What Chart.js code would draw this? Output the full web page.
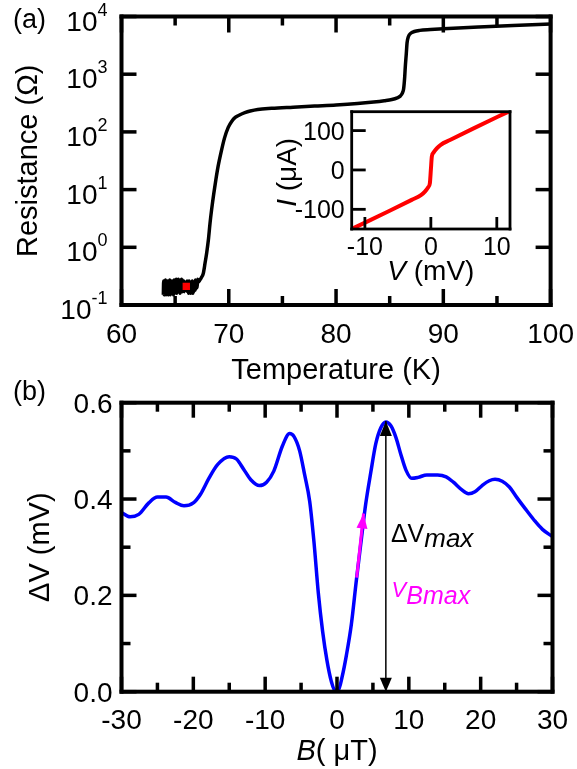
<!DOCTYPE html>
<html lang="en">
<head>
  <meta charset="UTF-8" />
  <title>R(T) and ΔV(B)</title>
  <script src="https://cdn.jsdelivr.net/npm/chart.js"></script>
  <style>
    body { margin: 0; background: #fff; }
    #page { position: relative; width: 577px; height: 769px; overflow: hidden; background: #fff; }
    canvas { position: absolute; }
  </style>
</head>
<body>
  <div id="page">
    <canvas id="chartA" width="577" height="395" style="left:0;top:0"></canvas>
    <canvas id="chartB" width="577" height="389" style="left:0;top:380px"></canvas>
    <canvas id="inset" width="250" height="185" style="left:270px;top:105px"></canvas>
  </div>

  <script>
    const FONT = '"Liberation Sans", Arial, Helvetica, sans-serif';

    // (a) resistance vs temperature (noisy tail below Tc, then the two transitions)
    const tempK = [63.9, 63.93, 63.98, 64.02, 64.07, 64.1, 64.15, 64.2, 64.25, 64.3, 64.35, 64.4, 64.45,
      64.5, 64.55, 64.6, 64.65, 64.7, 64.75, 64.8, 64.85, 64.9, 64.95, 65.0, 65.05, 65.1, 65.15, 65.2,
      65.25, 65.3, 65.35, 65.4, 65.45, 65.5, 65.55, 65.6, 65.65, 65.7, 65.75, 65.8, 65.85, 65.9, 65.95,
      66.0, 66.05, 66.1, 66.15, 66.2, 66.25, 66.3, 66.35, 66.4, 66.45, 66.5, 66.55, 66.6, 66.65, 66.7,
      66.75, 66.8, 66.85, 66.9, 66.95, 67.0, 67.05, 67.1, 67.16, 67.3, 67.45, 67.62, 67.8, 67.94, 68.1,
      68.25, 68.4, 68.6, 68.8, 69.0, 69.3, 69.6, 69.95, 70.3, 70.6, 71.0, 71.5, 72.0, 72.7, 74.0, 76.0,
      78.0, 80.0, 82.0, 83.5, 84.5, 85.2, 85.7, 86.0, 86.2, 86.3, 86.4, 86.45, 86.55, 86.62, 86.75,
      86.95, 87.3, 87.8, 88.8, 90.0, 93.3, 96.5, 100];
    const resOhm = [0.15, 0.26, 0.15, 0.25, 0.16, 0.27, 0.15, 0.24, 0.16, 0.26, 0.15, 0.25, 0.17,
      0.27, 0.15, 0.24, 0.16, 0.26, 0.17, 0.25, 0.15, 0.27, 0.16, 0.26, 0.17, 0.28, 0.16, 0.25,
      0.18, 0.28, 0.17, 0.27, 0.16, 0.26, 0.18, 0.28, 0.17, 0.27, 0.19, 0.26, 0.17, 0.25, 0.19,
      0.24, 0.18, 0.26, 0.17, 0.25, 0.16, 0.26, 0.17, 0.24, 0.16, 0.25, 0.17, 0.26, 0.16, 0.24,
      0.17, 0.25, 0.18, 0.27, 0.19, 0.26, 0.2, 0.28, 0.25, 0.27, 0.3, 0.35, 0.55, 0.8, 1.35,
      2.6, 4.5, 8.5, 15, 25, 46, 78, 120, 155, 178, 196, 215, 230, 245, 256, 268,
      280, 292, 310, 330, 348, 365, 390, 420, 480, 560, 900, 1300, 2300, 3500, 4500,
      5100, 5500, 5750, 5950, 6150, 6600, 7000, 7400];
    const markT = [66.04];
    const markR = [0.21];
    const tempTicks = [60, 70, 80, 90, 100];
    const tempMinor = [65, 75, 85, 95];
    const resTicks = [0.1, 1, 10, 100, 1000, 10000];
    const resExp = ['-1', '0', '1', '2', '3', '4'];

    // inset: I-V curve
    const ivV = [-12, -6.4, -2.9, -1.5, -0.9, -0.4, -0.15, 0, 0.15, 0.4, 0.9, 1.5, 2.9, 6.4, 12];
    const ivI = [-150, -105, -76, -64, -55, -44, -34, 0, 34, 44, 55, 64, 76, 105, 150];
    const vTicks = [-10, 0, 10];
    const iTicks = [-100, 0, 100];

    // (b) delta V vs field
    const fieldB = [-30, -28.8, -27.6, -26.2, -25.0, -23.8, -22.5, -21.3, -20.0, -19.0, -17.8, -16.6,
      -15.0, -14.0, -13.0, -12.0, -10.8, -9.8, -8.8, -7.6, -6.6, -6.0, -5.2, -4.5, -3.8, -3.2, -2.6,
      -2.0, -1.4, -0.8, -0.3, 0.2, 0.7, 1.3, 2.0, 2.7, 3.4, 4.0, 4.7, 5.4, 6.1, 6.8, 7.5, 8.2, 8.9,
      9.6, 10.4, 11.3, 12.5, 14.0, 15.2, 16.2, 17.3, 18.3, 19.2, 20.2, 21.2, 22.0, 23.0, 24.0, 25.0,
      26.2, 27.4, 28.6, 30];
    const deltaV = [0.372, 0.363, 0.368, 0.392, 0.404, 0.404, 0.393, 0.386, 0.392, 0.410, 0.444, 0.472,
      0.488, 0.483, 0.462, 0.440, 0.428, 0.435, 0.458, 0.510, 0.536, 0.530, 0.500, 0.450, 0.395, 0.310, 0.205,
      0.125, 0.065, 0.022, 0.003, 0.004, 0.030, 0.075, 0.140, 0.232, 0.318, 0.390, 0.455, 0.515, 0.548, 0.560, 0.552, 0.528, 0.492,
      0.460, 0.443, 0.445, 0.450, 0.450, 0.446, 0.435, 0.420, 0.411, 0.415, 0.428, 0.438, 0.441, 0.437, 0.425, 0.404,
      0.380, 0.357, 0.337, 0.322];
    const bTicks = [-30, -20, -10, 0, 10, 20, 30];
    const bMinor = [-25, -15, -5, 5, 15, 25];
    const dvTicks = [0, 0.2, 0.4, 0.6];
    const dvMinor = [0.1, 0.3, 0.5];
    const maxArrowB = [6.8, 6.8];
    const maxArrowV = [0, 0.562];
    const speedArrowB = [2.74, 3.7];
    const speedArrowV = [0.237, 0.37];

    const pts = (xs, ys) => xs.map((x, i) => ({ x, y: ys[i] }));
    const setTicks = vals => s => { s.ticks = vals.map(v => ({ value: v })); };
    const axis = extra => Object.assign({
      ticks: { display: false }, grid: { display: false }, border: { display: false }
    }, extra);
    const P = (t, size, style, dy, color) => ({ t, size, style, dy, color });

    function rich(ctx, parts, x, y, align, rot) {
      ctx.save();
      ctx.translate(x, y);
      if (rot) ctx.rotate(rot);
      ctx.textBaseline = 'alphabetic';
      ctx.textAlign = 'left';
      const fontOf = p => `${p.style || 'normal'} ${p.size}px ${FONT}`;
      let w = 0;
      parts.forEach(p => { ctx.font = fontOf(p); w += ctx.measureText(p.t).width; });
      let cx = align === 'center' ? -w / 2 : align === 'right' ? -w : 0;
      parts.forEach(p => {
        ctx.font = fontOf(p);
        ctx.fillStyle = p.color || '#000';
        ctx.fillText(p.t, cx, p.dy || 0);
        cx += ctx.measureText(p.t).width;
      });
      ctx.restore();
    }

    function head(ctx, x1, y1, x2, y2, len, half, color) {
      const ang = Math.atan2(y2 - y1, x2 - x1);
      ctx.save();
      ctx.translate(x2, y2);
      ctx.rotate(ang);
      ctx.beginPath();
      ctx.moveTo(0, 0);
      ctx.lineTo(-len, half);
      ctx.lineTo(-len, -half);
      ctx.closePath();
      ctx.fillStyle = color;
      ctx.fill();
      ctx.restore();
    }

    // frame, inward ticks, tick labels and free text
    function makeDeco(cfg) {
      return {
        id: 'deco',
        afterDraw(chart) {
          const ctx = chart.ctx, a = chart.chartArea;
          const sx = chart.scales.x, sy = chart.scales.y;
          const tw = cfg.tickW, fw = cfg.frame;
          ctx.save();
          ctx.fillStyle = '#000';
          const w = a.right - a.left, h = a.bottom - a.top;
          ctx.fillRect(a.left - fw / 2, a.top - fw / 2, w + fw, fw);
          ctx.fillRect(a.left - fw / 2, a.bottom - fw / 2, w + fw, fw);
          ctx.fillRect(a.left - fw / 2, a.top - fw / 2, fw, h + fw);
          ctx.fillRect(a.right - fw / 2, a.top - fw / 2, fw, h + fw);

          const xt = (vals, len) => vals.forEach(v => {
            const p = sx.getPixelForValue(v);
            ctx.fillRect(p - tw / 2, a.bottom - len, tw, len);
            if (cfg.mirror) ctx.fillRect(p - tw / 2, a.top, tw, len);
          });
          const yt = (vals, len) => vals.forEach(v => {
            const p = sy.getPixelForValue(v);
            ctx.fillRect(a.left, p - tw / 2, len, tw);
            if (cfg.mirror) ctx.fillRect(a.right - len, p - tw / 2, len, tw);
          });
          xt(sx.ticks.map(t => t.value), cfg.xLen);
          xt(cfg.xMinor || [], cfg.xMinorLen);
          yt(sy.ticks.map(t => t.value), cfg.yLen);
          yt(cfg.yMinor || [], cfg.yMinorLen);

          sx.ticks.forEach((t, i) => rich(ctx, cfg.xLabel(t.value, i),
            sx.getPixelForValue(t.value), a.bottom + cfg.xLabelDy, 'center'));
          sy.ticks.forEach((t, i) => rich(ctx, cfg.yLabel(t.value, i),
            a.left - cfg.yLabelGap, sy.getPixelForValue(t.value) + cfg.yLabelDy, 'right'));
          if (cfg.extra) cfg.extra(ctx, a, sx, sy);
          ctx.restore();
        }
      };
    }

    const baseOpts = (pad, xAxis, yAxis) => ({
      responsive: false,
      animation: false,
      events: [],
      layout: { padding: pad },
      plugins: { legend: { display: false }, tooltip: { enabled: false } },
      scales: { x: xAxis, y: yAxis }
    });

    // panel (a)
    new Chart(document.getElementById('chartA'), {
      type: 'line',
      data: {
        datasets: [
          { data: pts(markT, markR), showLine: false, pointStyle: 'rect', pointRadius: 5.2,
            pointBackgroundColor: '#ff0000', pointBorderWidth: 0, order: 0 },
          { data: pts(tempK, resOhm), borderColor: '#000', borderWidth: 3.5, pointRadius: 0,
            cubicInterpolationMode: 'monotone', order: 1 }
        ]
      },
      options: baseOpts({ top: 16.5, right: 26.4, left: 0, bottom: 0 },
        axis({ type: 'linear', min: 60, max: 100, afterBuildTicks: setTicks(tempTicks), afterFit: s => { s.height = 90; } }),
        axis({ type: 'logarithmic', min: 0.1, max: 10000, afterBuildTicks: setTicks(resTicks), afterFit: s => { s.width = 121.5; } })),
      plugins: [makeDeco({
        frame: 4, tickW: 3.5, mirror: true,
        xLen: 16, xMinorLen: 9, yLen: 15, yMinorLen: 9, xMinor: tempMinor,
        xLabel: v => [P(String(v), 28)], xLabelDy: 38,
        yLabel: (v, i) => [P('10', 28), P(resExp[i], 18, 'normal', -15)], yLabelGap: 14, yLabelDy: 14,
        extra: (ctx, a) => {
          rich(ctx, [P('(a)', 27)], 13, 28, 'left');
          rich(ctx, [P('Temperature (K)', 29)], (a.left + a.right) / 2, 379, 'center');
          rich(ctx, [P('Resistance (Ω)', 29)], 37, (a.top + a.bottom) / 2, 'center', -Math.PI / 2);
        }
      })]
    });

    // inset I-V
    new Chart(document.getElementById('inset'), {
      type: 'line',
      data: {
        datasets: [
          { data: pts(ivV, ivI), borderColor: '#ff0000', borderWidth: 4, pointRadius: 0,
            cubicInterpolationMode: 'monotone', clip: 0 }
        ]
      },
      options: baseOpts({ top: 6.7, right: 10, left: 0, bottom: 0 },
        axis({ type: 'linear', min: -12, max: 12, afterBuildTicks: setTicks(vTicks), afterFit: s => { s.height = 61; } }),
        axis({ type: 'linear', min: -150, max: 148, afterBuildTicks: setTicks(iTicks), afterFit: s => { s.width = 81.7; } })),
      plugins: [makeDeco({
        frame: 2.8, tickW: 2.8, mirror: false,
        xLen: 12, yLen: 14,
        xLabel: v => [P(String(v), 25)], xLabelDy: 26,
        yLabel: v => [P(String(v), 25)], yLabelGap: 7, yLabelDy: 9,
        extra: (ctx, a) => {
          rich(ctx, [P('V', 28, 'italic'), P(' (mV)', 28)], (a.left + a.right) / 2, a.bottom + 51, 'center');
          rich(ctx, [P('I', 28, 'italic'), P(' (μA)', 28)], 26, (a.top + a.bottom) / 2 + 2, 'center', -Math.PI / 2);
        }
      })]
    });

    // panel (b)
    new Chart(document.getElementById('chartB'), {
      type: 'line',
      data: {
        datasets: [
          { data: pts(speedArrowB, speedArrowV), borderColor: '#ff00ff', borderWidth: 3, pointRadius: 0, order: 0 },
          { data: pts(maxArrowB, maxArrowV), borderColor: '#000', borderWidth: 1.5, pointRadius: 0, order: 1 },
          { data: pts(fieldB, deltaV), borderColor: '#0000ff', borderWidth: 3.5, pointRadius: 0,
            cubicInterpolationMode: 'monotone', order: 2 }
        ]
      },
      options: baseOpts({ top: 22.7, right: 24.5, left: 0, bottom: 0 },
        axis({ type: 'linear', min: -30, max: 30, afterBuildTicks: setTicks(bTicks), afterFit: s => { s.height = 77.3; } }),
        axis({ type: 'linear', min: 0, max: 0.6, afterBuildTicks: setTicks(dvTicks), afterFit: s => { s.width = 121.5; } })),
      plugins: [makeDeco({
        frame: 4, tickW: 3.5, mirror: true,
        xLen: 15, xMinorLen: 9, yLen: 15, yMinorLen: 9, xMinor: bMinor, yMinor: dvMinor,
        xLabel: v => [P(String(v), 28)], xLabelDy: 37,
        yLabel: v => [P(v.toFixed(1), 28)], yLabelGap: 9, yLabelDy: 10,
        extra: (ctx, a, sx, sy) => {
          const bx = sx.getPixelForValue(maxArrowB[0]);
          head(ctx, bx, sy.getPixelForValue(maxArrowV[0]), bx, sy.getPixelForValue(maxArrowV[1]), 15, 6, '#000');
          head(ctx, bx, sy.getPixelForValue(maxArrowV[1]), bx, sy.getPixelForValue(maxArrowV[0]), 14, 6, '#000');
          head(ctx, sx.getPixelForValue(speedArrowB[0]), sy.getPixelForValue(speedArrowV[0]),
            sx.getPixelForValue(speedArrowB[1]), sy.getPixelForValue(speedArrowV[1]), 15, 5.5, '#ff00ff');
          rich(ctx, [P('ΔV', 25), P('max', 26, 'italic', 5)], sx.getPixelForValue(7.5), sy.getPixelForValue(0.311), 'left');
          rich(ctx, [P('V', 22, 'italic', 0, '#ff00ff'), P('Bmax', 25, 'italic', 7, '#ff00ff')],
            sx.getPixelForValue(7.6), sy.getPixelForValue(0.196), 'left');
          rich(ctx, [P('(b)', 27)], 13, 20, 'left');
          rich(ctx, [P('B', 29, 'italic'), P('( μT)', 29)], (a.left + a.right) / 2, 380, 'center');
          rich(ctx, [P('ΔV (mV)', 29)], 49, (a.top + a.bottom) / 2, 'center', -Math.PI / 2);
        }
      })]
    });
  </script>
</body>
</html>
